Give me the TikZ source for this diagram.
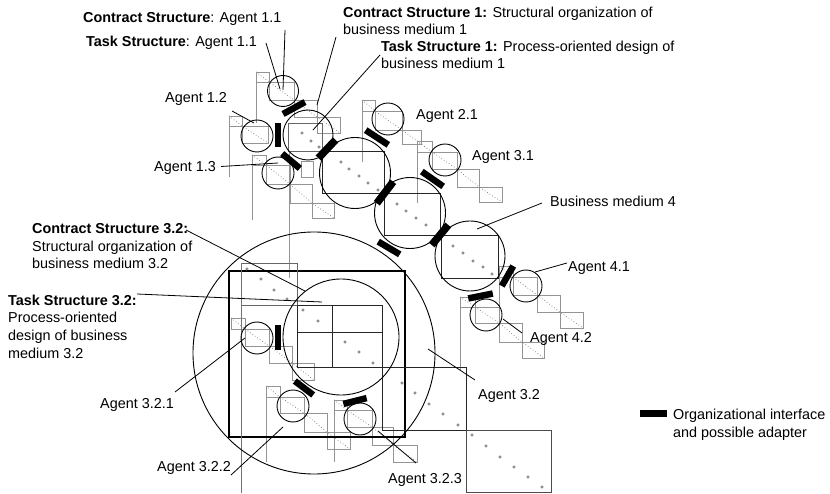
\documentclass[tikz,border=0pt]{standalone}
\usepackage{fontspec}
\setmainfont{Liberation Sans}
\begin{document}
\begin{tikzpicture}[x=1pt,y=-1pt,
 circ/.style={circle, draw=black, line width=0.9pt, inner sep=0pt},
 gbox/.style={draw=black!42, line width=0.6pt},
 gline/.style={draw=black!42, line width=0.6pt},
 gdiag/.style={draw=black!55, line width=0.7pt, dash pattern=on 0.7pt off 2.3pt},
 mbox/.style={draw=black!85, line width=0.8pt},
 bigbox/.style={draw=black, line width=1.3pt},
 dotp/.style={draw=black!60, line width=0.5pt},
 leader/.style={draw=black, line width=0.8pt},
 adapter/.style={fill=black, draw=none, inner sep=0pt, minimum height=6.5pt},
 lbl/.style={font=\fontsize{14.4}{17.6}\selectfont, inner sep=0pt, anchor=base west, align=left},
]
\useasboundingbox (0,0) rectangle (830,494);

% ---------- gray staircases (agent structures) ----------
% Agent 1.1
\draw[gbox] (256,72) rectangle (269,82) (269,82) rectangle (294,100) (294,100) rectangle (317,117) (317,117) rectangle (340,133);
\draw[gdiag] (256,72) -- (269,82) -- (294,100) -- (317,117) -- (340,133);
\draw[gline] (256,72) -- (256,123);
% Agent 1.2
\draw[gbox] (229,116) rectangle (242,126) (242,126) rectangle (268,143);
\draw[gdiag] (229,116) -- (242,126) -- (268,143);
\draw[gline] (229,116) -- (229,177);
% Agent 1.3
\draw[gbox] (252,155) rectangle (266,165) (266,165) rectangle (290,184) (290,184) rectangle (312,203) (312,203) rectangle (334,218);
\draw[gdiag] (252,155) -- (266,165) -- (290,184) -- (312,203) -- (334,218);
\draw[gline] (252,155) -- (252,220);
\draw[gbox] (301,161) rectangle (313,177);
\draw[gline] (289,151) -- (289,278);
% Agent 2.1
\draw[gbox] (362,100) rectangle (375,111) (375,111) rectangle (402,130) (402,130) rectangle (421,144);
\draw[gdiag] (362,100) -- (375,111) -- (402,130) -- (421,144);
\draw[gline] (362,100) -- (362,162);
% Agent 3.1
\draw[gbox] (417,141) rectangle (432,152) (432,152) rectangle (457,169) (457,169) rectangle (479,187) (479,187) rectangle (502,202);
\draw[gdiag] (417,141) -- (432,152) -- (457,169) -- (479,187) -- (502,202);
\draw[gline] (417,141) -- (417,203);
% Agent 4.1
\draw[gbox] (499,266) rectangle (513,277) (513,277) rectangle (537,295) (537,295) rectangle (560,312) (560,312) rectangle (583,328);
\draw[gdiag] (499,266) -- (513,277) -- (537,295) -- (560,312) -- (583,328);
\draw[gline] (499,266) -- (499,340);
% Agent 4.2
\draw[gbox] (460,297) rectangle (475,307) (475,307) rectangle (499,323) (499,323) rectangle (522,342) (522,342) rectangle (544,358);
\draw[gdiag] (460,297) -- (475,307) -- (499,323) -- (522,342) -- (544,358);
\draw[gline] (460,297) -- (460,370);
% Agent 3.2.1
\draw[gbox] (231,318) rectangle (245,329) (245,329) rectangle (269,346) (269,346) rectangle (292,363) (292,363) rectangle (314,380);
\draw[gdiag] (231,318) -- (245,329) -- (269,346) -- (292,363) -- (314,380);
% Agent 3.2.2
\draw[gbox] (266,386) rectangle (280,397) (280,397) rectangle (304,413) (304,413) rectangle (327,432) (327,432) rectangle (350,449);
\draw[gdiag] (266,386) -- (280,397) -- (304,413) -- (327,432) -- (350,449);
\draw[gline] (266,386) -- (266,462);
% Agent 3.2.3
\draw[gbox] (334,400) rectangle (347,410) (347,410) rectangle (372,427) (372,427) rectangle (393,445) (393,445) rectangle (417,462);
\draw[gdiag] (334,400) -- (347,410) -- (372,427) -- (393,445) -- (417,462);
\draw[gline] (334,400) -- (334,462);

% ---------- business medium matrices ----------
\draw[mbox, draw=black!60] (288,123) rectangle (322,151);
\draw[mbox] (322,151) rectangle (384,193);
\draw[mbox] (384,193) rectangle (440,235);
\draw[mbox] (441,235) rectangle (498,278);
\foreach \p in {(302,133),(311,141),(319,147),
  (341,162),(349,169),(359,176),(368,183),(378,190),
  (397,204),(406,211),(416,218),(426,225),
  (453,246),(463,253),(473,261),(483,267),(492,274)}
  \draw[dotp] \p circle (1.2);

% business medium 3.2 and agent 3.2 structure
\draw[bigbox] (229,271) rectangle (405,437);
\draw[draw=black!60, line width=0.7pt] (241,263) rectangle (297,305);
\draw[draw=black!55, line width=0.7pt] (241,263) -- (241,493);
\draw[mbox] (297,305) rectangle (382,367);
\draw[mbox] (332,305) -- (332,367) (297,332) -- (382,332);
\draw[mbox] (382,367) rectangle (466,430);
\draw[mbox, draw=black!70] (466,430) rectangle (551,492);
\foreach \p in {(247,269),(261,279),(274,290),(287,299),
  (303,310),(318,321),(345,342),(359,352),(373,363),
  (402,383),(415,393),(429,404),(443,414),(458,425),
  (472,435),(486,446),(500,457),(514,467),(528,477),(542,487)}
  \draw[dotp] \p circle (1.2);

% ---------- circles ----------
\node[circ, minimum size=31pt] (a11) at (283,91) {};
\node[circ, minimum size=32pt] (a12) at (257,136) {};
\node[circ, minimum size=32pt] (a13) at (278,173) {};
\node[circ, minimum size=50pt] (bm1) at (308,135) {};
\node[circ, minimum size=71pt] (bm2) at (355,173) {};
\node[circ, minimum size=71pt] (bm3) at (410,213) {};
\node[circ, minimum size=70pt] (bm4) at (470,256) {};
\node[circ, minimum size=32pt] (a21) at (388,119) {};
\node[circ, minimum size=32pt] (a31) at (445,160) {};
\node[circ, minimum size=32pt] (a41) at (526,286) {};
\node[circ, minimum size=32pt] (a42) at (486,315) {};
\node[circ, minimum size=242pt] (a32) at (314,353) {};
\node[circ, minimum size=116pt] (bm32) at (341,337) {};
\node[circ, minimum size=32pt] (a321) at (257,338) {};
\node[circ, minimum size=32pt] (a322) at (293,406) {};
\node[circ, minimum size=32pt] (a323) at (360,419) {};

% ---------- organizational interfaces ----------
\node[adapter, minimum width=25pt, rotate=28.6] (i1) at (294,108) {};
\node[adapter, minimum width=24pt, rotate=90] (i2) at (278,135) {};
\node[adapter, minimum width=23pt, rotate=-40] (i3) at (291,161) {};
\node[adapter, minimum width=25pt, minimum height=7.5pt, rotate=46.6] (i4) at (327,149) {};
\node[adapter, minimum width=27pt, rotate=-33] (i5) at (377,137.5) {};
\node[adapter, minimum width=27pt, minimum height=7.5pt, rotate=52.7] (i6) at (385,192.5) {};
\node[adapter, minimum width=26pt, rotate=-34.8] (i7) at (432.5,179) {};
\node[adapter, minimum width=26pt, minimum height=7.5pt, rotate=50.3] (i8) at (440,235) {};
\node[adapter, minimum width=25pt, rotate=-30.6] (i9) at (389,248) {};
\node[adapter, minimum width=23pt, rotate=60] (i10) at (507.5,276) {};
\node[adapter, minimum width=25pt, rotate=11.3] (i11) at (480.5,296) {};
\node[adapter, minimum width=25pt, rotate=90] (i12) at (278,337.5) {};
\node[adapter, minimum width=23pt, rotate=-37] (i13) at (304,388) {};
\node[adapter, minimum width=24pt, rotate=14] (i14) at (355,401) {};

% ---------- labels (base = baseline of last line) ----------
\node[lbl] (tcs11) at (83,23) {\textbf{Contract Structure}: Agent 1.1};
\node[lbl] (tts11) at (86,47) {\textbf{Task Structure}: Agent 1.1};
\node[lbl] (tcs1) at (343,35) {\textbf{Contract Structure 1:} Structural organization of\\business medium 1};
\node[lbl] (tts1) at (381,69) {\textbf{Task Structure 1:} Process-oriented design of\\business medium 1};
\node[lbl] (ta12) at (165,103) {Agent 1.2};
\node[lbl] (ta13) at (154,172) {Agent 1.3};
\node[lbl] (ta21) at (416,120) {Agent 2.1};
\node[lbl] (ta31) at (472,161) {Agent 3.1};
\node[lbl] (tbm4) at (550,207) {Business medium 4};
\node[lbl] (ta41) at (568,272) {Agent 4.1};
\node[lbl] (ta42) at (530,342) {Agent 4.2};
\node[lbl] (tcs32) at (32,269) {\textbf{Contract Structure 3.2:}\\Structural organization of\\business medium 3.2};
\node[lbl] (tts32) at (8,358) {\textbf{Task Structure 3.2:}\\Process-oriented\\design of business\\medium 3.2};
\node[lbl] (ta321) at (100,408) {Agent 3.2.1};
\node[lbl] (ta32) at (478,399) {Agent 3.2};
\node[lbl] (ta322) at (157,471) {Agent 3.2.2};
\node[lbl] (ta323) at (388,483) {Agent 3.2.3};
\node[lbl] (tleg) at (673,437) {Organizational interface\\and possible adapter};
\node[fill=black, inner sep=0pt, minimum width=27pt, minimum height=7pt] (leg) at (653,413.5) {};

% ---------- leaders ----------
\coordinate (p1a) at (285,30);  \coordinate (p1b) at (283,90);
\coordinate (p2a) at (266,43);  \coordinate (p2b) at (280,89);
\coordinate (p3a) at (336,37);  \coordinate (p3b) at (317,105);
\coordinate (p4a) at (380,55);  \coordinate (p4b) at (313,130);
\coordinate (p5a) at (232,111); \coordinate (p5b) at (254,123);
\coordinate (p6a) at (221,166.5); \coordinate (p6b) at (278,163);
\coordinate (p7a) at (542,203); \coordinate (p7b) at (477,229);
\coordinate (p8a) at (567,263); \coordinate (p8b) at (535,272);
\coordinate (p9a) at (522,333); \coordinate (p9b) at (503,319);
\coordinate (p10a) at (186,230); \coordinate (p10b) at (305,291);
\coordinate (p11a) at (137,294); \coordinate (p11b) at (322,302);
\coordinate (p12a) at (175,392); \coordinate (p12b) at (245,338);
\coordinate (p13a) at (231,475); \coordinate (p13b) at (283,427);
\coordinate (p14a) at (416,463); \coordinate (p14b) at (378,431);
\coordinate (p15a) at (475,380); \coordinate (p15b) at (428,349);
\foreach \n in {1,...,15} \draw[leader] (p\n a) -- (p\n b);
\end{tikzpicture}
\end{document}
